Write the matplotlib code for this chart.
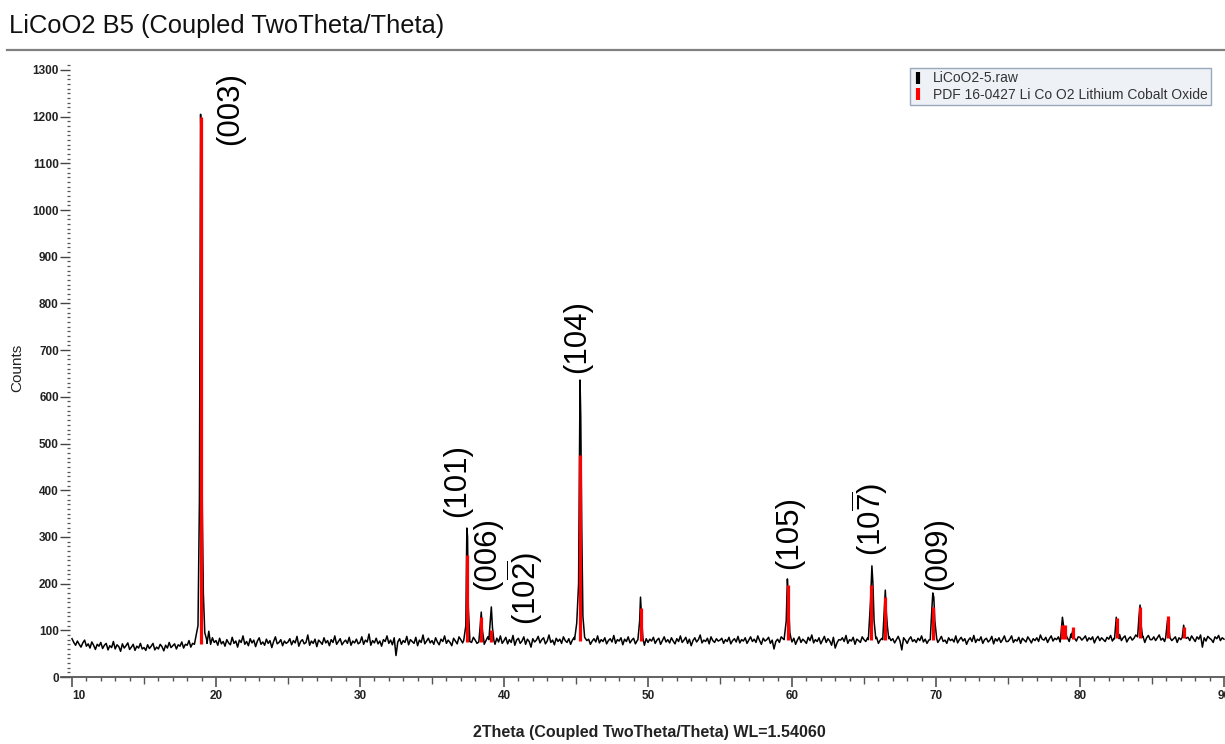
import numpy as np
import matplotlib
matplotlib.use("Agg")
import matplotlib.pyplot as plt
from matplotlib.lines import Line2D
from matplotlib.ticker import FixedLocator

plt.rcParams['font.family'] = ['Liberation Sans', 'DejaVu Sans']
plt.rcParams['mathtext.fontset'] = 'custom'
plt.rcParams['mathtext.rm'] = 'Liberation Sans'
plt.rcParams['mathtext.it'] = 'Liberation Sans:italic'
plt.rcParams['mathtext.bf'] = 'Liberation Sans:bold'

# ---------------- data ----------------
title = "LiCoO2 B5 (Coupled TwoTheta/Theta)"
x_label = "2Theta (Coupled TwoTheta/Theta) WL=1.54060"
y_label = "Counts"
legend_labels = ["LiCoO2-5.raw", "PDF 16-0427 Li Co O2 Lithium Cobalt Oxide"]

# measured background, one value every 0.125 deg starting at 10.0 deg
bg_start = 10.0
bg_step = 0.125
bg_counts = [
    # 10
    82, 74, 68, 77, 70, 64, 73, 79, 66, 71, 62, 75, 68, 59, 70, 66, 74, 61, 68, 72,
    58, 67, 63, 76, 60, 69, 65, 55, 71, 62, 67, 73, 59, 64, 70, 57, 66, 62, 72, 60,
    # 15
    63, 57, 69, 61, 66, 72, 58, 64, 60, 70, 65, 56, 68, 62, 74, 63, 67, 71, 60, 69,
    66, 75, 62, 70, 68, 78, 64, 72, 70, 76, 68, 80, 74, 70, 76, 72, 98, 70, 84, 74,
    # 20
    78, 68, 83, 71, 76, 66, 80, 73, 69, 85, 72, 77, 64, 79, 74, 88, 70, 76, 67, 82,
    73, 79, 65, 77, 84, 70, 75, 68, 81, 72, 78, 63, 76, 86, 71, 74, 80, 67, 77, 72,
    # 25
    75, 82, 69, 78, 73, 87, 66, 76, 80, 71, 74, 90, 68, 77, 72, 81, 65, 79, 75, 70,
    84, 73, 78, 67, 80, 74, 88, 70, 76, 82, 69, 75, 79, 72, 85, 68, 77, 73, 81, 71,
    # 30
    74, 86, 70, 79, 75, 92, 68, 78, 73, 83, 71, 77, 66, 80, 76, 88, 72, 79, 69, 84,
    46, 75, 82, 70, 78, 74, 87, 69, 80, 76, 72, 85, 67, 79, 74, 90, 71, 77, 83, 73,
    # 35
    78, 70, 84, 75, 69, 81, 76, 88, 72, 79, 74, 67, 83, 77, 71, 86, 80, 73, 78, 68,
    82, 76, 74, 85, 79, 72, 81, 75, 84, 70, 78, 86, 73, 80, 77, 70, 83, 75, 88, 72,
    # 40
    78, 85, 71, 80, 74, 89, 68, 79, 83, 72, 77, 86, 70, 81, 76, 64, 82, 75, 79, 87,
    73, 80, 84, 71, 77, 90, 74, 79, 69, 83, 76, 81, 72, 86, 78, 74, 82, 70, 79, 85,
    # 45
    80, 76, 83, 72, 79, 86, 74, 81, 70, 77, 82, 75, 88, 73, 80, 76, 84, 71, 78, 82,
    75, 89, 72, 80, 77, 84, 69, 81, 76, 86, 73, 79, 83, 71, 78, 87, 74, 80, 68, 82,
    # 50
    74, 81, 77, 85, 72, 79, 83, 70, 78, 86, 75, 80, 73, 84, 77, 71, 82, 76, 88, 74,
    79, 85, 72, 81, 67, 78, 84, 75, 80, 90, 73, 79, 76, 83, 71, 86, 78, 74, 82, 77,
    # 55
    79, 83, 72, 80, 76, 85, 71, 78, 82, 75, 87, 73, 80, 77, 84, 72, 79, 86, 76, 81,
    74, 88, 78, 70, 83, 77, 80, 85, 72, 79, 60, 76, 81, 74, 86, 82, 78, 87, 73, 80,
    # 60
    75, 83, 70, 79, 86, 74, 81, 77, 72, 85, 78, 90, 73, 80, 76, 84, 71, 79, 87, 74,
    82, 77, 68, 85, 62, 73, 80, 79, 84, 76, 89, 72, 80, 77, 85, 70, 81, 78, 74, 86,
    # 65
    80, 76, 84, 78, 82, 75, 80, 85, 72, 79, 83, 76, 81, 74, 86, 78, 82, 73, 80, 87,
    77, 58, 84, 79, 72, 81, 86, 76, 80, 74, 83, 78, 88, 75, 81, 72, 79, 85, 77, 82,
    # 70
    83, 74, 80, 87, 76, 79, 72, 84, 78, 81, 75, 88, 73, 80, 85, 77, 82, 70, 79, 84,
    76, 89, 74, 81, 78, 86, 72, 80, 83, 75, 79, 87, 71, 82, 77, 84, 74, 80, 88, 76,
    # 75
    76, 81, 88, 74, 80, 77, 85, 72, 83, 79, 75, 86, 80, 73, 82, 78, 84, 76, 90, 81,
    79, 85, 74, 82, 88, 77, 83, 80, 86, 75, 81, 89, 78, 84, 76, 92, 80, 83, 77, 86,
    # 80
    85, 79, 83, 88, 77, 84, 80, 86, 73, 82, 87, 78, 84, 80, 76, 85, 81, 89, 77, 83,
    86, 80, 91, 78, 84, 88, 75, 82, 86, 79, 83, 90, 77, 85, 81, 87, 74, 84, 89, 80,
    # 85
    80, 86, 78, 84, 90, 79, 83, 76, 85, 81, 88, 78, 82, 86, 74, 84, 80, 87, 79, 83,
    85, 78, 88, 82, 76, 86, 81, 90, 64, 84, 77, 87, 83, 80, 74, 86, 82, 89, 78, 84,
    # 90
    81,
]

# measured peak profiles of the raw pattern: (2theta, counts)
peak_003 = [(18.55, 78), (18.75, 110), (18.85, 380), (18.93, 1205), (18.97, 1130),
            (19.00, 615), (19.05, 360), (19.12, 180), (19.22, 95), (19.35, 80)]
peak_101 = [(37.20, 78), (37.35, 110), (37.42, 319), (37.47, 300), (37.52, 150), (37.62, 85)]
peak_006 = [(38.25, 75), (38.35, 110), (38.42, 139), (38.50, 100), (38.60, 78)]
peak_012 = [(38.95, 80), (39.05, 120), (39.12, 150), (39.20, 105), (39.30, 78)]
peak_104 = [(44.90, 80), (45.05, 115), (45.18, 200), (45.28, 636), (45.33, 560),
            (45.40, 320), (45.48, 130), (45.60, 85), (45.75, 78)]
peak_015 = [(49.30, 80), (49.42, 120), (49.48, 171), (49.55, 130), (49.65, 82)]
peak_105 = [(59.45, 80), (59.60, 120), (59.68, 210), (59.75, 170), (59.85, 95), (59.95, 80)]
peak_107 = [(65.30, 80), (65.45, 160), (65.55, 238), (65.62, 200), (65.70, 120), (65.82, 82)]
peak_110 = [(66.30, 80), (66.42, 150), (66.48, 186), (66.55, 140), (66.62, 110), (66.72, 82)]
peak_009 = [(69.60, 80), (69.72, 150), (69.78, 180), (69.85, 170), (69.92, 120), (70.05, 82)]
peak_788 = [(78.65, 82), (78.78, 128), (78.88, 105), (79.00, 95), (79.10, 84)]
peak_795 = [(79.40, 85), (79.50, 100), (79.60, 84)]
peak_825 = [(82.40, 82), (82.52, 128), (82.62, 100), (82.72, 82)]
peak_841 = [(84.00, 86), (84.10, 130), (84.17, 154), (84.25, 110), (84.35, 85)]
peak_861 = [(85.95, 84), (86.08, 122), (86.15, 110), (86.25, 84)]
peak_872 = [(87.10, 85), (87.20, 111), (87.30, 86)]
peaks = [peak_003, peak_101, peak_006, peak_012, peak_104, peak_015, peak_105,
         peak_107, peak_110, peak_009, peak_788, peak_795, peak_825, peak_841,
         peak_861, peak_872]

# reference pattern PDF 16-0427 sticks
ref_pos = [18.95, 37.45, 38.40, 39.12, 45.30, 49.50, 59.72, 65.52, 66.45, 69.80,
           78.75, 78.95, 79.50, 82.55, 84.17, 86.10, 87.20]
ref_top = [1200, 261, 128, 101, 475, 148, 197, 197, 171, 150,
           111, 111, 108, 126, 150, 131, 107]
ref_base = [70, 75, 75, 75, 78, 78, 80, 80, 80, 80,
            82, 82, 82, 83, 83, 83, 83]

# Miller index annotations
hkl_text = ["(003)", "(101)", "(006)", r"(10$\overline{2}$)", "(104)", "(105)",
            r"(10$\overline{7}$)", "(009)"]
hkl_x = [20.97, 36.74, 38.82, 41.46, 45.07, 59.79, 65.42, 70.14]
hkl_y = [1139, 343, 186, 111, 651, 231, 259, 186]

x_ticks = [10, 20, 30, 40, 50, 60, 70, 80, 90]
y_ticks = list(range(0, 1301, 100))

# ---------------- build trace ----------------
bg_counts = np.array(bg_counts, dtype=float)
bg_x = bg_start + bg_step * np.arange(len(bg_counts))
keep = np.ones(len(bg_x), dtype=bool)
px_all, py_all = [], []
for pk in peaks:
    arr = np.array(pk, dtype=float)
    keep &= ~((bg_x >= arr[:, 0].min()) & (bg_x <= arr[:, 0].max()))
    px_all.extend(arr[:, 0])
    py_all.extend(arr[:, 1])
tx = np.concatenate([bg_x[keep], px_all])
ty = np.concatenate([bg_counts[keep], py_all])
order = np.argsort(tx)
tx, ty = tx[order], ty[order]

# ---------------- figure ----------------
W, H = 1225, 744
fig = plt.figure(figsize=(W / 100, H / 100), dpi=100)

fig.text(9 / W, 1 - 33 / H, title, fontsize=18.4, va='baseline', ha='left', color='#111111')
fig.add_artist(Line2D([7 / W, 1.0], [1 - 50 / H, 1 - 50 / H], color='#808080', lw=1.6))

ax = fig.add_axes([61 / W, 1 - 677 / H, (W - 61) / W, (677 - 62) / H])
ax.set_xlim(9.236, 90.07)
ax.set_ylim(0, 1317)

ax.plot(tx, ty, color='black', lw=1.1, zorder=2)
ax.vlines(ref_pos, ref_base, ref_top, color='#ff0000', lw=2.3, zorder=3)

for t, x, y in zip(hkl_text, hkl_x, hkl_y):
    ax.text(x, y, t, rotation=90, ha='center', va='bottom', fontsize=22.5, color='black')

# spines
ax.spines['top'].set_visible(False)
ax.spines['right'].set_visible(False)
ax.spines['left'].set_position(('data', 9.86))
ax.spines['left'].set_visible(False)
ax.spines['bottom'].set_color('#555555')
ax.spines['bottom'].set_linewidth(1.3)

# y ticks
ax.set_yticks(y_ticks, [str(v) for v in y_ticks], fontsize=8.5, fontweight='bold')
ax.yaxis.set_minor_locator(FixedLocator([v for v in range(0, 1318, 10) if v % 100]))
ax.tick_params(axis='y', which='major', length=7.2, width=1.0, color='#444444', pad=0.8,
               labelcolor='#222222')
ax.tick_params(axis='y', which='minor', length=2.3, width=0.9, color='#555555')

# x ticks
ax.set_xticks(x_ticks, [str(v) for v in x_ticks], fontsize=8.5, fontweight='bold')
ax.xaxis.set_minor_locator(FixedLocator([v for v in range(10, 91) if v % 5]))
ax.tick_params(axis='x', which='major', length=7.5, width=1.1, color='#444444', pad=2.2,
               labelcolor='#222222')
ax.tick_params(axis='x', which='minor', length=3.0, width=1.0, color='#555555')
ax.get_xticklabels()[0].set_ha('left')
sec = ax.secondary_xaxis('bottom')
sec.set_xticks([15, 25, 35, 45, 55, 65, 75, 85])
sec.tick_params(length=5, width=1.0, color='#555555', labelbottom=False)
sec.spines['bottom'].set_visible(False)

fig.text(649 / W, 1 - 733 / H, x_label, fontsize=11.5, fontweight='bold', ha='center',
         va='center', color='#222222')
fig.text(17 / W, 1 - 368 / H, y_label, fontsize=11, rotation=90, ha='center',
         va='center', color='#222222')

handles = [Line2D([], [], color='black', marker='|', ls='none', markersize=9, mew=3),
           Line2D([], [], color='#ff0000', marker='|', ls='none', markersize=9, mew=3)]
leg = fig.legend(handles, legend_labels, loc='upper left',
                 bbox_to_anchor=(910 / W, 1 - 68 / H), borderaxespad=0,
                 fontsize=10, frameon=True, fancybox=False, facecolor='#eef2f7',
                 edgecolor='#9aa8bc', framealpha=1, handlelength=0.6,
                 handletextpad=0.8, borderpad=0.25, labelspacing=0.15)
leg.get_frame().set_linewidth(1.0)
for t in leg.get_texts():
    t.set_color('#333333')

fig.savefig('out.png', dpi=100)
